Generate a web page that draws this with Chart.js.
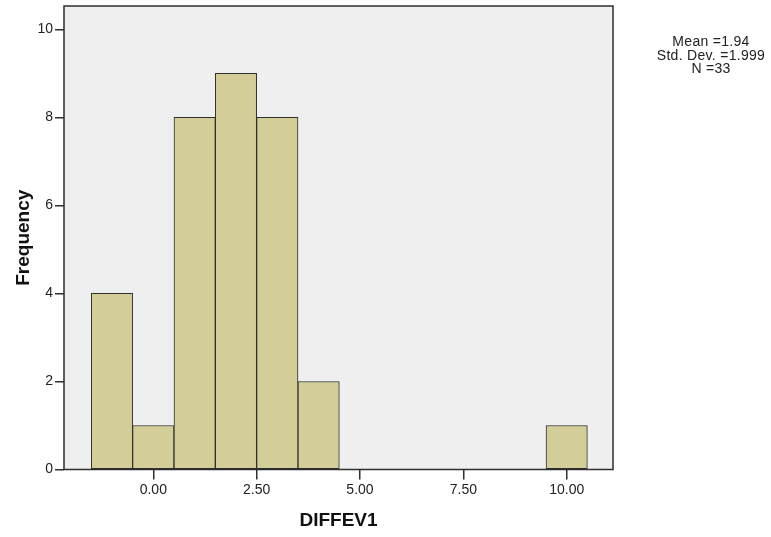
<!DOCTYPE html>
<html lang="en">
<head>
  <meta charset="UTF-8">
  <title>DIFFEV1 histogram</title>
  <script src="https://cdn.jsdelivr.net/npm/chart.js"></script>
  <style>
    body {
      margin: 0;
      background: #ffffff;
      font-family: "Liberation Sans", Arial, sans-serif;
    }
    .wrap {
      position: relative;
      width: 771px;
      height: 537px;
    }
    #stats {
      position: absolute;
      left: 651px;
      top: 35px;
      width: 120px;
      text-align: center;
      font-size: 14px;
      letter-spacing: 0.3px;
      line-height: 13.5px;
      color: #222;
    }
  </style>
</head>
<body>
  <div class="wrap">
    <canvas id="hist" width="771" height="537"></canvas>
    <div id="stats"></div>
  </div>

  <script>
    // histogram bins (width 1) and their counts
    const binCenters = [-1, 0, 1, 2, 3, 4, 5, 6, 7, 8, 9, 10];
    const frequencies = [4, 1, 8, 9, 8, 2, 0, 0, 0, 0, 0, 1];
    const xTicks = [0, 2.5, 5, 7.5, 10];
    const yTicks = [0, 2, 4, 6, 8, 10];
    const statLines = ["Mean =1.94", "Std. Dev. =1.999", "N =33"];

    document.getElementById("stats").innerHTML = statLines.join("<br>");

    const ink = "#2e2e2e";

    // grey plot background and a closed frame round the plot area
    const framePlugin = {
      id: "frame",
      beforeDraw(chart) {
        const { ctx, chartArea: a } = chart;
        ctx.save();
        ctx.fillStyle = "#efefef";
        ctx.fillRect(a.left, a.top, a.right - a.left, a.bottom - a.top);
        ctx.restore();
      },
      afterDraw(chart) {
        const { ctx, chartArea: a } = chart;
        ctx.save();
        ctx.strokeStyle = ink;
        ctx.lineWidth = 1.5;
        ctx.strokeRect(a.left, a.top, a.right - a.left, a.bottom - a.top);
        ctx.restore();
      }
    };

    const tickFont = { family: "'Liberation Sans', Arial, sans-serif", size: 14 };
    const titleFont = { family: "'Liberation Sans', Arial, sans-serif", size: 19, weight: "bold" };

    new Chart(document.getElementById("hist"), {
      type: "bar",
      data: {
        datasets: [{
          data: binCenters.map((x, i) => ({ x: x, y: frequencies[i] || null })),
          backgroundColor: "#d3ce97",
          borderColor: ink,
          borderWidth: 1,
          borderSkipped: false,
          barPercentage: 1,
          categoryPercentage: 1
        }]
      },
      options: {
        responsive: false,
        animation: false,
        layout: { padding: { top: 6, right: 158, bottom: 0, left: 0 } },
        plugins: {
          legend: { display: false },
          tooltip: { enabled: false }
        },
        scales: {
          x: {
            type: "linear",
            min: -2.16,
            max: 11.12,
            offset: false,
            afterBuildTicks: s => { s.ticks = xTicks.map(v => ({ value: v })); },
            afterFit: s => { s.height = 67.5; s.paddingLeft = 0; s.paddingRight = 0; },
            ticks: {
              color: "#222",
              font: tickFont,
              padding: 2,
              maxRotation: 0,
              callback: v => v.toFixed(2)
            },
            grid: {
              offset: false,
              drawOnChartArea: false,
              drawTicks: true,
              tickLength: 10,
              color: ink,
              lineWidth: 1.5
            },
            border: { display: false },
            title: {
              display: true,
              text: "DIFFEV1",
              color: "#111",
              font: titleFont,
              padding: { top: 0, bottom: 5 }
            }
          },
          y: {
            min: 0,
            max: 10.53,
            afterBuildTicks: s => { s.ticks = yTicks.map(v => ({ value: v })); },
            afterFit: s => { s.width = 64; s.paddingTop = 0; s.paddingBottom = 0; },
            ticks: {
              color: "#222",
              font: tickFont,
              padding: 2
            },
            grid: {
              drawOnChartArea: false,
              drawTicks: true,
              tickLength: 9,
              color: ink,
              lineWidth: 1.5
            },
            border: { display: false },
            title: {
              display: true,
              text: "Frequency",
              color: "#111",
              font: titleFont,
              padding: { top: 12, bottom: 0 }
            }
          }
        }
      },
      plugins: [framePlugin]
    });
  </script>
</body>
</html>
